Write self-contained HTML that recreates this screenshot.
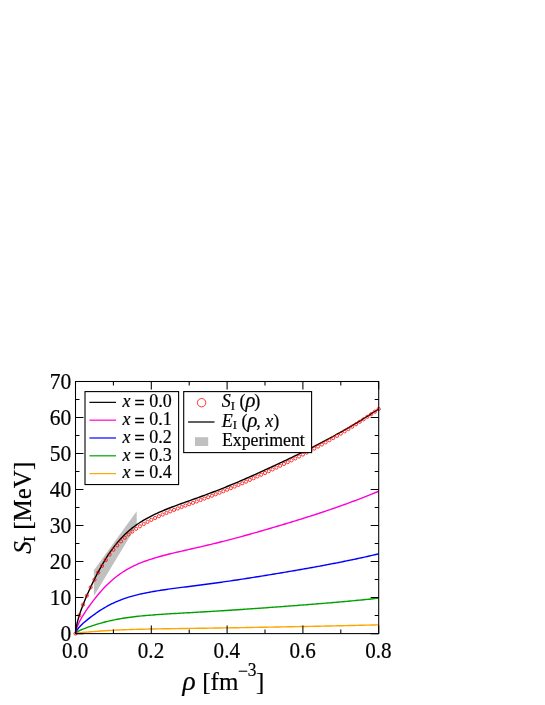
<!DOCTYPE html>
<html><head><meta charset="utf-8"><title>chart</title>
<style>
html,body{margin:0;padding:0;background:#fff;}
svg{display:block;will-change:transform;font-family:"Liberation Serif",serif;}
text{stroke:#000;stroke-width:0.2px;}
</style></head><body>
<svg width="545" height="705" viewBox="0 0 545 705">
<rect width="545" height="705" fill="#fff"/>
<polygon points="93.9,596.1 93.9,570.3 136.7,511.2 136.7,525.3" fill="#c0c0c0"/>
<g fill="none" stroke-width="1.4" stroke-linejoin="round">
<path d="M75.50,633.60 L75.88,633.45 L76.26,633.36 L76.64,633.28 L77.02,633.21 L77.39,633.15 L77.77,633.09 L78.15,633.04 L78.53,632.99 L78.91,632.94 L79.29,632.89 L79.67,632.84 L80.05,632.80 L80.43,632.75 L80.81,632.71 L81.19,632.67 L81.56,632.63 L81.94,632.59 L82.32,632.55 L82.70,632.51 L83.08,632.47 L84.97,632.29 L86.87,632.12 L88.77,631.95 L90.66,631.79 L92.55,631.63 L94.45,631.48 L96.34,631.34 L98.24,631.19 L100.13,631.06 L102.03,630.93 L103.92,630.80 L105.82,630.68 L107.72,630.56 L109.61,630.45 L111.50,630.35 L113.40,630.25 L115.30,630.15 L117.19,630.06 L119.09,629.97 L120.98,629.89 L122.88,629.81 L124.77,629.74 L126.66,629.67 L128.56,629.60 L130.45,629.54 L132.35,629.48 L134.25,629.42 L136.14,629.37 L138.03,629.32 L139.93,629.27 L141.82,629.22 L143.72,629.18 L145.62,629.13 L147.51,629.09 L149.41,629.05 L151.30,629.02 L153.19,628.98 L155.09,628.94 L156.99,628.91 L158.88,628.88 L160.77,628.84 L162.67,628.81 L164.56,628.78 L166.46,628.75 L168.35,628.72 L170.25,628.69 L172.14,628.66 L174.04,628.64 L175.94,628.61 L177.83,628.58 L179.73,628.55 L181.62,628.53 L183.51,628.50 L185.41,628.47 L187.31,628.45 L189.20,628.42 L191.10,628.39 L192.99,628.37 L194.88,628.34 L196.78,628.32 L198.68,628.29 L200.57,628.26 L202.47,628.23 L204.36,628.21 L206.25,628.18 L208.15,628.15 L210.05,628.12 L211.94,628.10 L213.84,628.07 L215.73,628.04 L217.62,628.01 L219.52,627.98 L221.41,627.95 L223.31,627.92 L225.20,627.89 L227.10,627.86 L229.00,627.83 L230.89,627.80 L232.78,627.77 L234.68,627.74 L236.58,627.71 L238.47,627.68 L240.37,627.65 L242.26,627.62 L244.16,627.58 L246.05,627.55 L247.94,627.52 L249.84,627.49 L251.73,627.45 L253.63,627.42 L255.53,627.39 L257.42,627.35 L259.32,627.32 L261.21,627.29 L263.11,627.25 L265.00,627.22 L266.89,627.19 L268.79,627.15 L270.68,627.12 L272.58,627.08 L274.48,627.05 L276.37,627.01 L278.26,626.98 L280.16,626.95 L282.05,626.91 L283.95,626.88 L285.85,626.84 L287.74,626.81 L289.63,626.77 L291.53,626.73 L293.42,626.70 L295.32,626.66 L297.22,626.63 L299.11,626.59 L301.00,626.55 L302.90,626.52 L304.79,626.48 L306.69,626.44 L308.58,626.41 L310.48,626.37 L312.38,626.33 L314.27,626.30 L316.16,626.26 L318.06,626.22 L319.95,626.18 L321.85,626.14 L323.75,626.10 L325.64,626.06 L327.53,626.02 L329.43,625.99 L331.32,625.95 L333.22,625.91 L335.12,625.86 L337.01,625.82 L338.91,625.78 L340.80,625.74 L342.69,625.70 L344.59,625.66 L346.49,625.62 L348.38,625.57 L350.27,625.53 L352.17,625.49 L354.06,625.44 L355.96,625.40 L357.85,625.35 L359.75,625.31 L361.64,625.26 L363.54,625.22 L365.44,625.17 L367.33,625.13 L369.22,625.08 L371.12,625.03 L373.01,624.99 L374.91,624.94 L376.81,624.89 L378.70,624.84" stroke="#ffa500"/><path d="M75.50,633.60 L75.88,632.98 L76.26,632.61 L76.64,632.31 L77.02,632.03 L77.39,631.78 L77.77,631.55 L78.15,631.33 L78.53,631.12 L78.91,630.92 L79.29,630.73 L79.67,630.54 L80.05,630.36 L80.43,630.18 L80.81,630.01 L81.19,629.84 L81.56,629.68 L81.94,629.51 L82.32,629.36 L82.70,629.20 L83.08,629.05 L84.97,628.31 L86.87,627.61 L88.77,626.94 L90.66,626.29 L92.55,625.66 L94.45,625.05 L96.34,624.45 L98.24,623.88 L100.13,623.33 L102.03,622.80 L103.92,622.29 L105.82,621.80 L107.72,621.33 L109.61,620.89 L111.50,620.46 L113.40,620.06 L115.30,619.67 L117.19,619.30 L119.09,618.95 L120.98,618.62 L122.88,618.30 L124.77,618.00 L126.66,617.72 L128.56,617.45 L130.45,617.19 L132.35,616.95 L134.25,616.72 L136.14,616.51 L138.03,616.30 L139.93,616.10 L141.82,615.92 L143.72,615.74 L145.62,615.57 L147.51,615.40 L149.41,615.24 L151.30,615.09 L153.19,614.94 L155.09,614.79 L156.99,614.66 L158.88,614.52 L160.77,614.39 L162.67,614.26 L164.56,614.14 L166.46,614.01 L168.35,613.89 L170.25,613.78 L172.14,613.66 L174.04,613.55 L175.94,613.44 L177.83,613.33 L179.73,613.22 L181.62,613.11 L183.51,613.00 L185.41,612.90 L187.31,612.79 L189.20,612.69 L191.10,612.58 L192.99,612.47 L194.88,612.37 L196.78,612.26 L198.68,612.15 L200.57,612.04 L202.47,611.93 L204.36,611.82 L206.25,611.71 L208.15,611.60 L210.05,611.49 L211.94,611.38 L213.84,611.26 L215.73,611.15 L217.62,611.03 L219.52,610.91 L221.41,610.80 L223.31,610.68 L225.20,610.56 L227.10,610.44 L229.00,610.31 L230.89,610.19 L232.78,610.07 L234.68,609.94 L236.58,609.82 L238.47,609.69 L240.37,609.56 L242.26,609.43 L244.16,609.30 L246.05,609.17 L247.94,609.04 L249.84,608.91 L251.73,608.78 L253.63,608.64 L255.53,608.51 L257.42,608.37 L259.32,608.24 L261.21,608.10 L263.11,607.97 L265.00,607.83 L266.89,607.69 L268.79,607.56 L270.68,607.42 L272.58,607.28 L274.48,607.14 L276.37,607.00 L278.26,606.86 L280.16,606.72 L282.05,606.58 L283.95,606.44 L285.85,606.30 L287.74,606.16 L289.63,606.02 L291.53,605.87 L293.42,605.73 L295.32,605.58 L297.22,605.44 L299.11,605.29 L301.00,605.15 L302.90,605.00 L304.79,604.85 L306.69,604.70 L308.58,604.55 L310.48,604.40 L312.38,604.25 L314.27,604.10 L316.16,603.95 L318.06,603.79 L319.95,603.64 L321.85,603.48 L323.75,603.33 L325.64,603.17 L327.53,603.01 L329.43,602.85 L331.32,602.69 L333.22,602.53 L335.12,602.36 L337.01,602.20 L338.91,602.03 L340.80,601.86 L342.69,601.70 L344.59,601.53 L346.49,601.36 L348.38,601.18 L350.27,601.01 L352.17,600.84 L354.06,600.66 L355.96,600.48 L357.85,600.30 L359.75,600.12 L361.64,599.94 L363.54,599.75 L365.44,599.57 L367.33,599.38 L369.22,599.19 L371.12,599.00 L373.01,598.81 L374.91,598.61 L376.81,598.42 L378.70,598.22" stroke="#00a000"/><path d="M75.50,633.60 L75.88,632.19 L76.26,631.37 L76.64,630.68 L77.02,630.07 L77.39,629.51 L77.77,628.98 L78.15,628.49 L78.53,628.01 L78.91,627.56 L79.29,627.12 L79.67,626.70 L80.05,626.29 L80.43,625.90 L80.81,625.51 L81.19,625.13 L81.56,624.76 L81.94,624.39 L82.32,624.03 L82.70,623.68 L83.08,623.33 L84.97,621.67 L86.87,620.09 L88.77,618.58 L90.66,617.12 L92.55,615.70 L94.45,614.32 L96.34,612.98 L98.24,611.69 L100.13,610.45 L102.03,609.25 L103.92,608.10 L105.82,607.01 L107.72,605.95 L109.61,604.95 L111.50,603.99 L113.40,603.07 L115.30,602.20 L117.19,601.37 L119.09,600.58 L120.98,599.83 L122.88,599.12 L124.77,598.44 L126.66,597.80 L128.56,597.20 L130.45,596.62 L132.35,596.08 L134.25,595.56 L136.14,595.07 L138.03,594.61 L139.93,594.17 L141.82,593.74 L143.72,593.34 L145.62,592.95 L147.51,592.58 L149.41,592.22 L151.30,591.87 L153.19,591.54 L155.09,591.21 L156.99,590.90 L158.88,590.59 L160.77,590.30 L162.67,590.01 L164.56,589.73 L166.46,589.45 L168.35,589.18 L170.25,588.92 L172.14,588.66 L174.04,588.41 L175.94,588.16 L177.83,587.91 L179.73,587.66 L181.62,587.42 L183.51,587.18 L185.41,586.94 L187.31,586.70 L189.20,586.46 L191.10,586.22 L192.99,585.98 L194.88,585.74 L196.78,585.50 L198.68,585.25 L200.57,585.01 L202.47,584.76 L204.36,584.51 L206.25,584.27 L208.15,584.01 L210.05,583.76 L211.94,583.51 L213.84,583.25 L215.73,582.99 L217.62,582.73 L219.52,582.46 L221.41,582.20 L223.31,581.93 L225.20,581.66 L227.10,581.39 L229.00,581.11 L230.89,580.84 L232.78,580.56 L234.68,580.27 L236.58,579.99 L238.47,579.70 L240.37,579.42 L242.26,579.13 L244.16,578.83 L246.05,578.54 L247.94,578.24 L249.84,577.95 L251.73,577.65 L253.63,577.35 L255.53,577.05 L257.42,576.74 L259.32,576.44 L261.21,576.13 L263.11,575.82 L265.00,575.52 L266.89,575.21 L268.79,574.90 L270.68,574.59 L272.58,574.28 L274.48,573.97 L276.37,573.65 L278.26,573.34 L280.16,573.02 L282.05,572.71 L283.95,572.39 L285.85,572.07 L287.74,571.75 L289.63,571.43 L291.53,571.10 L293.42,570.78 L295.32,570.45 L297.22,570.13 L299.11,569.80 L301.00,569.47 L302.90,569.13 L304.79,568.80 L306.69,568.47 L308.58,568.13 L310.48,567.79 L312.38,567.45 L314.27,567.11 L316.16,566.76 L318.06,566.41 L319.95,566.07 L321.85,565.71 L323.75,565.36 L325.64,565.01 L327.53,564.65 L329.43,564.29 L331.32,563.92 L333.22,563.56 L335.12,563.19 L337.01,562.82 L338.91,562.45 L340.80,562.07 L342.69,561.69 L344.59,561.31 L346.49,560.92 L348.38,560.54 L350.27,560.14 L352.17,559.75 L354.06,559.35 L355.96,558.95 L357.85,558.55 L359.75,558.14 L361.64,557.73 L363.54,557.31 L365.44,556.89 L367.33,556.47 L369.22,556.05 L371.12,555.62 L373.01,555.18 L374.91,554.74 L376.81,554.30 L378.70,553.86" stroke="#0000ff"/><path d="M75.50,633.60 L75.88,631.09 L76.26,629.62 L76.64,628.39 L77.02,627.30 L77.39,626.29 L77.77,625.35 L78.15,624.47 L78.53,623.62 L78.91,622.81 L79.29,622.04 L79.67,621.28 L80.05,620.55 L80.43,619.84 L80.81,619.15 L81.19,618.47 L81.56,617.80 L81.94,617.15 L82.32,616.51 L82.70,615.88 L83.08,615.26 L84.97,612.29 L86.87,609.47 L88.77,606.77 L90.66,604.16 L92.55,601.63 L94.45,599.17 L96.34,596.78 L98.24,594.47 L100.13,592.25 L102.03,590.12 L103.92,588.07 L105.82,586.10 L107.72,584.23 L109.61,582.43 L111.50,580.71 L113.40,579.08 L115.30,577.52 L117.19,576.04 L119.09,574.63 L120.98,573.29 L122.88,572.02 L124.77,570.82 L126.66,569.67 L128.56,568.59 L130.45,567.56 L132.35,566.59 L134.25,565.66 L136.14,564.79 L138.03,563.96 L139.93,563.17 L141.82,562.42 L143.72,561.70 L145.62,561.01 L147.51,560.34 L149.41,559.70 L151.30,559.08 L153.19,558.48 L155.09,557.90 L156.99,557.34 L158.88,556.79 L160.77,556.26 L162.67,555.75 L164.56,555.25 L166.46,554.76 L168.35,554.27 L170.25,553.80 L172.14,553.34 L174.04,552.89 L175.94,552.44 L177.83,552.00 L179.73,551.56 L181.62,551.13 L183.51,550.70 L185.41,550.27 L187.31,549.84 L189.20,549.41 L191.10,548.98 L192.99,548.55 L194.88,548.12 L196.78,547.69 L198.68,547.26 L200.57,546.82 L202.47,546.38 L204.36,545.94 L206.25,545.49 L208.15,545.04 L210.05,544.59 L211.94,544.14 L213.84,543.68 L215.73,543.21 L217.62,542.75 L219.52,542.28 L221.41,541.80 L223.31,541.32 L225.20,540.84 L227.10,540.35 L229.00,539.86 L230.89,539.37 L232.78,538.87 L234.68,538.36 L236.58,537.86 L238.47,537.35 L240.37,536.83 L242.26,536.32 L244.16,535.79 L246.05,535.27 L247.94,534.74 L249.84,534.21 L251.73,533.67 L253.63,533.14 L255.53,532.60 L257.42,532.06 L259.32,531.51 L261.21,530.96 L263.11,530.42 L265.00,529.87 L266.89,529.32 L268.79,528.76 L270.68,528.21 L272.58,527.65 L274.48,527.10 L276.37,526.54 L278.26,525.98 L280.16,525.41 L282.05,524.85 L283.95,524.28 L285.85,523.71 L287.74,523.14 L289.63,522.56 L291.53,521.99 L293.42,521.41 L295.32,520.83 L297.22,520.24 L299.11,519.65 L301.00,519.06 L302.90,518.47 L304.79,517.87 L306.69,517.28 L308.58,516.67 L310.48,516.07 L312.38,515.46 L314.27,514.85 L316.16,514.23 L318.06,513.61 L319.95,512.99 L321.85,512.36 L323.75,511.73 L325.64,511.10 L327.53,510.46 L329.43,509.81 L331.32,509.17 L333.22,508.51 L335.12,507.85 L337.01,507.19 L338.91,506.53 L340.80,505.85 L342.69,505.18 L344.59,504.49 L346.49,503.81 L348.38,503.11 L350.27,502.41 L352.17,501.71 L354.06,501.00 L355.96,500.28 L357.85,499.56 L359.75,498.83 L361.64,498.10 L363.54,497.36 L365.44,496.61 L367.33,495.86 L369.22,495.09 L371.12,494.33 L373.01,493.55 L374.91,492.77 L376.81,491.98 L378.70,491.18" stroke="#ff00d2"/><path d="M75.50,633.60 L75.88,629.64 L76.26,627.32 L76.64,625.38 L77.02,623.66 L77.39,622.07 L77.77,620.59 L78.15,619.19 L78.53,617.86 L78.91,616.59 L79.29,615.36 L79.67,614.17 L80.05,613.02 L80.43,611.90 L80.81,610.80 L81.19,609.73 L81.56,608.68 L81.94,607.66 L82.32,606.65 L82.70,605.66 L83.08,604.68 L84.97,599.99 L86.87,595.55 L88.77,591.29 L90.66,587.17 L92.55,583.17 L94.45,579.29 L96.34,575.52 L98.24,571.88 L100.13,568.38 L102.03,565.01 L103.92,561.78 L105.82,558.69 L107.72,555.72 L109.61,552.89 L111.50,550.18 L113.40,547.60 L115.30,545.15 L117.19,542.81 L119.09,540.59 L120.98,538.48 L122.88,536.48 L124.77,534.57 L126.66,532.76 L128.56,531.05 L130.45,529.43 L132.35,527.90 L134.25,526.45 L136.14,525.07 L138.03,523.76 L139.93,522.52 L141.82,521.33 L143.72,520.19 L145.62,519.10 L147.51,518.05 L149.41,517.04 L151.30,516.06 L153.19,515.11 L155.09,514.20 L156.99,513.32 L158.88,512.46 L160.77,511.62 L162.67,510.81 L164.56,510.01 L166.46,509.24 L168.35,508.48 L170.25,507.74 L172.14,507.01 L174.04,506.29 L175.94,505.59 L177.83,504.89 L179.73,504.20 L181.62,503.52 L183.51,502.84 L185.41,502.16 L187.31,501.49 L189.20,500.81 L191.10,500.14 L192.99,499.46 L194.88,498.78 L196.78,498.10 L198.68,497.41 L200.57,496.72 L202.47,496.03 L204.36,495.33 L206.25,494.63 L208.15,493.92 L210.05,493.21 L211.94,492.49 L213.84,491.77 L215.73,491.04 L217.62,490.30 L219.52,489.56 L221.41,488.81 L223.31,488.05 L225.20,487.29 L227.10,486.52 L229.00,485.75 L230.89,484.97 L232.78,484.18 L234.68,483.39 L236.58,482.59 L238.47,481.78 L240.37,480.97 L242.26,480.15 L244.16,479.33 L246.05,478.50 L247.94,477.67 L249.84,476.83 L251.73,475.99 L253.63,475.14 L255.53,474.29 L257.42,473.44 L259.32,472.58 L261.21,471.71 L263.11,470.85 L265.00,469.98 L266.89,469.11 L268.79,468.24 L270.68,467.37 L272.58,466.49 L274.48,465.61 L276.37,464.73 L278.26,463.85 L280.16,462.96 L282.05,462.07 L283.95,461.17 L285.85,460.27 L287.74,459.37 L289.63,458.47 L291.53,457.56 L293.42,456.64 L295.32,455.72 L297.22,454.80 L299.11,453.87 L301.00,452.94 L302.90,452.01 L304.79,451.07 L306.69,450.12 L308.58,449.17 L310.48,448.22 L312.38,447.26 L314.27,446.29 L316.16,445.32 L318.06,444.35 L319.95,443.36 L321.85,442.37 L323.75,441.38 L325.64,440.38 L327.53,439.37 L329.43,438.35 L331.32,437.33 L333.22,436.30 L335.12,435.26 L337.01,434.22 L338.91,433.17 L340.80,432.11 L342.69,431.04 L344.59,429.96 L346.49,428.88 L348.38,427.79 L350.27,426.68 L352.17,425.57 L354.06,424.45 L355.96,423.32 L357.85,422.18 L359.75,421.03 L361.64,419.88 L363.54,418.71 L365.44,417.53 L367.33,416.34 L369.22,415.14 L371.12,413.93 L373.01,412.70 L374.91,411.47 L376.81,410.22 L378.70,408.97" stroke="#000000"/>
</g>
<g fill="none" stroke="#ff0000" stroke-width="0.8"><circle cx="75.50" cy="633.60" r="1.6"/><circle cx="79.29" cy="615.36" r="1.6"/><circle cx="83.08" cy="604.70" r="1.6"/><circle cx="86.87" cy="595.63" r="1.6"/><circle cx="90.66" cy="587.35" r="1.6"/><circle cx="94.45" cy="579.64" r="1.6"/><circle cx="98.24" cy="572.48" r="1.6"/><circle cx="102.03" cy="565.91" r="1.6"/><circle cx="105.82" cy="559.95" r="1.6"/><circle cx="109.61" cy="554.56" r="1.6"/><circle cx="113.40" cy="549.70" r="1.6"/><circle cx="117.19" cy="545.32" r="1.6"/><circle cx="120.98" cy="541.36" r="1.6"/><circle cx="124.77" cy="537.77" r="1.6"/><circle cx="128.56" cy="534.50" r="1.6"/><circle cx="132.35" cy="531.53" r="1.6"/><circle cx="136.14" cy="528.82" r="1.6"/><circle cx="139.93" cy="526.33" r="1.6"/><circle cx="143.72" cy="524.04" r="1.6"/><circle cx="147.51" cy="521.90" r="1.6"/><circle cx="151.30" cy="519.89" r="1.6"/><circle cx="155.09" cy="518.01" r="1.6"/><circle cx="158.88" cy="516.22" r="1.6"/><circle cx="162.67" cy="514.53" r="1.6"/><circle cx="166.46" cy="512.92" r="1.6"/><circle cx="170.25" cy="511.37" r="1.6"/><circle cx="174.04" cy="509.88" r="1.6"/><circle cx="177.83" cy="508.42" r="1.6"/><circle cx="181.62" cy="507.00" r="1.6"/><circle cx="185.41" cy="505.61" r="1.6"/><circle cx="189.20" cy="504.22" r="1.6"/><circle cx="192.99" cy="502.83" r="1.6"/><circle cx="196.78" cy="501.44" r="1.6"/><circle cx="200.57" cy="500.04" r="1.6"/><circle cx="204.36" cy="498.62" r="1.6"/><circle cx="208.15" cy="497.19" r="1.6"/><circle cx="211.94" cy="495.75" r="1.6"/><circle cx="215.73" cy="494.28" r="1.6"/><circle cx="219.52" cy="492.78" r="1.6"/><circle cx="223.31" cy="491.26" r="1.6"/><circle cx="227.10" cy="489.72" r="1.6"/><circle cx="230.89" cy="488.15" r="1.6"/><circle cx="234.68" cy="486.56" r="1.6"/><circle cx="238.47" cy="484.93" r="1.6"/><circle cx="242.26" cy="483.29" r="1.6"/><circle cx="246.05" cy="481.62" r="1.6"/><circle cx="249.84" cy="479.93" r="1.6"/><circle cx="253.63" cy="478.21" r="1.6"/><circle cx="257.42" cy="476.48" r="1.6"/><circle cx="261.21" cy="474.74" r="1.6"/><circle cx="265.00" cy="472.98" r="1.6"/><circle cx="268.79" cy="471.20" r="1.6"/><circle cx="272.58" cy="469.42" r="1.6"/><circle cx="276.37" cy="467.62" r="1.6"/><circle cx="280.16" cy="465.81" r="1.6"/><circle cx="283.95" cy="463.98" r="1.6"/><circle cx="287.74" cy="462.14" r="1.6"/><circle cx="291.53" cy="460.27" r="1.6"/><circle cx="295.32" cy="458.39" r="1.6"/><circle cx="299.11" cy="456.48" r="1.6"/><circle cx="302.90" cy="454.54" r="1.6"/><circle cx="306.69" cy="452.58" r="1.6"/><circle cx="310.48" cy="450.60" r="1.6"/><circle cx="314.27" cy="448.59" r="1.6"/><circle cx="318.06" cy="446.54" r="1.6"/><circle cx="321.85" cy="444.47" r="1.6"/><circle cx="325.64" cy="442.37" r="1.6"/><circle cx="329.43" cy="440.23" r="1.6"/><circle cx="333.22" cy="438.06" r="1.6"/><circle cx="337.01" cy="435.85" r="1.6"/><circle cx="340.80" cy="433.61" r="1.6"/><circle cx="344.59" cy="431.33" r="1.6"/><circle cx="348.38" cy="429.02" r="1.6"/><circle cx="352.17" cy="426.66" r="1.6"/><circle cx="355.96" cy="424.26" r="1.6"/><circle cx="359.75" cy="421.82" r="1.6"/><circle cx="363.54" cy="419.34" r="1.6"/><circle cx="367.33" cy="416.81" r="1.6"/><circle cx="371.12" cy="414.24" r="1.6"/><circle cx="374.91" cy="411.63" r="1.6"/><circle cx="378.70" cy="408.97" r="1.6"/></g>
<g fill="none" stroke="#000" stroke-width="1.05">
<rect x="75.5" y="381.5" width="303.20" height="252.10"/>
<path d="M75.50,633.60 h8 M378.70,633.60 h-8 M75.50,615.59 h4 M378.70,615.59 h-4 M75.50,597.59 h8 M378.70,597.59 h-8 M75.50,579.58 h4 M378.70,579.58 h-4 M75.50,561.57 h8 M378.70,561.57 h-8 M75.50,543.56 h4 M378.70,543.56 h-4 M75.50,525.56 h8 M378.70,525.56 h-8 M75.50,507.55 h4 M378.70,507.55 h-4 M75.50,489.54 h8 M378.70,489.54 h-8 M75.50,471.54 h4 M378.70,471.54 h-4 M75.50,453.53 h8 M378.70,453.53 h-8 M75.50,435.52 h4 M378.70,435.52 h-4 M75.50,417.51 h8 M378.70,417.51 h-8 M75.50,399.51 h4 M378.70,399.51 h-4 M75.50,381.50 h8 M378.70,381.50 h-8 M75.50,633.60 v-8 M75.50,381.50 v8 M113.40,633.60 v-4 M113.40,381.50 v4 M151.30,633.60 v-8 M151.30,381.50 v8 M189.20,633.60 v-4 M189.20,381.50 v4 M227.10,633.60 v-8 M227.10,381.50 v8 M265.00,633.60 v-4 M265.00,381.50 v4 M302.90,633.60 v-8 M302.90,381.50 v8 M340.80,633.60 v-4 M340.80,381.50 v4 M378.70,633.60 v-8 M378.70,381.50 v8"/>
</g>
<g font-size="22" fill="#000"><text transform="translate(71.2,641.10) scale(0.98,1.04)" text-anchor="end">0</text><text transform="translate(71.2,605.09) scale(0.98,1.04)" text-anchor="end">10</text><text transform="translate(71.2,569.07) scale(0.98,1.04)" text-anchor="end">20</text><text transform="translate(71.2,533.06) scale(0.98,1.04)" text-anchor="end">30</text><text transform="translate(71.2,497.04) scale(0.98,1.04)" text-anchor="end">40</text><text transform="translate(71.2,461.03) scale(0.98,1.04)" text-anchor="end">50</text><text transform="translate(71.2,425.01) scale(0.98,1.04)" text-anchor="end">60</text><text transform="translate(71.2,389.00) scale(0.98,1.04)" text-anchor="end">70</text><text transform="translate(75.20,658) scale(0.96,1.04)" text-anchor="middle">0.0</text><text transform="translate(151.00,658) scale(0.96,1.04)" text-anchor="middle">0.2</text><text transform="translate(226.80,658) scale(0.96,1.04)" text-anchor="middle">0.4</text><text transform="translate(302.60,658) scale(0.96,1.04)" text-anchor="middle">0.6</text><text transform="translate(378.40,658) scale(0.96,1.04)" text-anchor="middle">0.8</text></g>
<!-- legend 1 -->
<rect x="85" y="391.6" width="93.6" height="92.95" fill="#fff" stroke="#000" stroke-width="1.1"/>
<g fill="#000"><path d="M89.4,402.35 H116" stroke="#000000" stroke-width="1.2"/><text x="122.6" y="407.05" font-size="18"><tspan font-style="italic">x</tspan><tspan dy="1.8" dx="-0.5" stroke-width="0.45"> =</tspan><tspan dy="-1.8"> 0.0</tspan></text><path d="M89.4,420.17 H116" stroke="#ff00d2" stroke-width="1.2"/><text x="122.6" y="424.87" font-size="18"><tspan font-style="italic">x</tspan><tspan dy="1.8" dx="-0.5" stroke-width="0.45"> =</tspan><tspan dy="-1.8"> 0.1</tspan></text><path d="M89.4,437.99 H116" stroke="#0000ff" stroke-width="1.2"/><text x="122.6" y="442.69" font-size="18"><tspan font-style="italic">x</tspan><tspan dy="1.8" dx="-0.5" stroke-width="0.45"> =</tspan><tspan dy="-1.8"> 0.2</tspan></text><path d="M89.4,455.81 H116" stroke="#00a000" stroke-width="1.2"/><text x="122.6" y="460.51" font-size="18"><tspan font-style="italic">x</tspan><tspan dy="1.8" dx="-0.5" stroke-width="0.45"> =</tspan><tspan dy="-1.8"> 0.3</tspan></text><path d="M89.4,473.63 H116" stroke="#ffa500" stroke-width="1.2"/><text x="122.6" y="478.33" font-size="18"><tspan font-style="italic">x</tspan><tspan dy="1.8" dx="-0.5" stroke-width="0.45"> =</tspan><tspan dy="-1.8"> 0.4</tspan></text></g>
<!-- legend 2 -->
<rect x="183.7" y="391.6" width="127.9" height="61" fill="#fff" stroke="#000" stroke-width="1.1"/>
<circle cx="201.6" cy="402.7" r="4.2" fill="none" stroke="#ff0000" stroke-width="0.8"/>
<path d="M188.1,422 H214.5" stroke="#2a2a2a" stroke-width="1.5"/>
<rect x="195" y="437.2" width="13.2" height="8.8" fill="#c0c0c0"/>
<g font-size="18" fill="#000">
<text x="221.7" y="407.2"><tspan font-style="italic">S</tspan><tspan font-size="12.8" dy="2.5">I</tspan><tspan dy="-2.5"> (</tspan><tspan font-style="italic" font-size="20.7">ρ</tspan><tspan dx="-1.2">)</tspan></text>
<text x="221.7" y="426.6"><tspan font-style="italic">E</tspan><tspan font-size="12.8" dy="2.5">I</tspan><tspan dy="-2.5"> (</tspan><tspan font-style="italic" font-size="20.7">ρ</tspan><tspan dx="-1.2">, </tspan><tspan font-style="italic">x</tspan>)</text>
<text x="222" y="445.7" textLength="82.8" lengthAdjust="spacingAndGlyphs">Experiment</text>
</g>
<!-- axis labels -->
<g font-size="25" fill="#000">
<text x="182.6" y="689.6" font-style="italic" font-size="27.5">ρ</text>
<text x="202.3" y="689.6">[fm</text>
<text x="238" y="677.3" font-size="17.75">−</text><text transform="translate(247.7,675.9) scale(0.98,1.09)" font-size="17.75">3</text>
<text x="255.9" y="689.6">]</text>
<g transform="translate(31,553.75) rotate(-90)">
<text x="0" y="0" font-style="italic">S</text>
<text x="11.75" y="3.8" font-size="17.75">I</text>
<text x="23.95" y="0">[MeV]</text>
</g>
</g>
</svg>
</body></html>
